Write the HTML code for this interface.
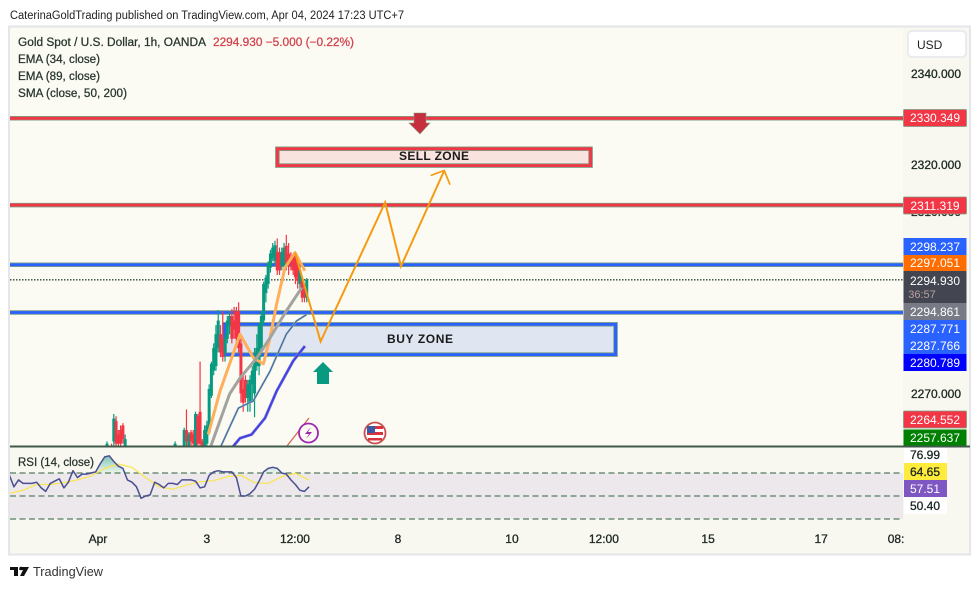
<!DOCTYPE html>
<html lang="en">
<head>
<meta charset="utf-8">
<title>Gold Spot / U.S. Dollar chart</title>
<style>
html,body{margin:0;padding:0;background:#fff;width:980px;height:589px;overflow:hidden}
svg{display:block;font-family:"Liberation Sans",sans-serif}
.axis{font-size:12px;fill:#1a2620;text-anchor:middle;stroke:#1a2620;stroke-width:.3}
.tag{font-size:12px;fill:#fff;text-anchor:middle}
.leg{font-size:11.5px;fill:#27352d;stroke:#27352d;stroke-width:.25}
</style>
</head>
<body>
<svg id="chart" width="980" height="589" viewBox="0 0 980 589" xmlns="http://www.w3.org/2000/svg">
  <defs>
    <clipPath id="mainClip"><rect x="10" y="28" width="893" height="418"/></clipPath>
    <clipPath id="rsiClip"><rect x="10" y="447" width="893" height="75"/></clipPath>
    <linearGradient id="rsiFill" x1="0" y1="0" x2="0" y2="1">
      <stop offset="0" stop-color="#089981" stop-opacity=".5"/>
      <stop offset="1" stop-color="#089981" stop-opacity=".05"/>
    </linearGradient>
  </defs>

  <text x="10" y="19" font-size="11.5" fill="#222" textLength="394" lengthAdjust="spacingAndGlyphs">CaterinaGoldTrading published on TradingView.com, Apr 04, 2024 17:23 UTC+7</text>

  <rect x="9" y="26.5" width="961" height="528" fill="#f8f8f0" stroke="#e4e6ea" stroke-width="2"/>
  <rect x="10" y="28" width="893" height="418" fill="#fbfbf3"/>

  <g id="mainMarks" clip-path="url(#mainClip)"></g>

  <g>
    <path d="M414 113H426V123H430L420 134L409 123H414Z" fill="#c62f3e" stroke="#8a9a80" stroke-width=".6"/>
  </g>
  <g>
    <path d="M323 362L333 372H329V384H317V372H313Z" fill="#089981"/>
  </g>
  <text x="434" y="160" font-size="12" font-weight="bold" fill="#1a1a1a" text-anchor="middle" textLength="70">SELL ZONE</text>
  <text x="420" y="343" font-size="12" font-weight="bold" fill="#1a1a1a" text-anchor="middle" textLength="66">BUY ZONE</text>

  <g>
    <path d="M287 446L309 418" stroke="#d2694f" stroke-width="1.3" fill="none"/>
    <circle cx="308.500" cy="433" r="9.500" fill="#fbfbf3" stroke="#9c27b0" stroke-width="1.800"/>
    <path d="M311 427L305 434H309L306 439L312 432H308Z" fill="#9c27b0"/>
  </g>
  <g>
    <circle cx="375" cy="433" r="10.500" fill="#fff" stroke="#c9504f" stroke-width="1.800"/>
    <rect x="367" y="426" width="16" height="3" fill="#d8343f"/>
    <rect x="367" y="432" width="16" height="3" fill="#d8343f"/>
    <rect x="368" y="438" width="14" height="2.500" fill="#d8343f"/>
    <rect x="367" y="426" width="8" height="7" fill="#3a5aa8"/>
  </g>

  <g>
    <text class="leg" x="18" y="46" textLength="188" lengthAdjust="spacingAndGlyphs">Gold Spot / U.S. Dollar, 1h, OANDA</text>
    <text class="leg" x="213" y="46" style="fill:#d2404c;stroke:#d2404c" textLength="141" lengthAdjust="spacingAndGlyphs">2294.930 −5.000 (−0.22%)</text>
    <text class="leg" x="18" y="63" textLength="82" lengthAdjust="spacingAndGlyphs">EMA (34, close)</text>
    <text class="leg" x="18" y="80" textLength="82" lengthAdjust="spacingAndGlyphs">EMA (89, close)</text>
    <text class="leg" x="18" y="97" textLength="109" lengthAdjust="spacingAndGlyphs">SMA (close, 50, 200)</text>
  </g>

  <g id="rsiMarks" clip-path="url(#rsiClip)"></g>
  <text class="leg" x="18" y="466" textLength="76" lengthAdjust="spacingAndGlyphs">RSI (14, close)</text>

  <rect x="10" y="445.500" width="960" height="2" fill="#3f5a4a"/>

  <g>
    <rect x="903" y="28" width="66" height="417" fill="#f8f8f0"/>
    <text class="axis" x="936" y="78">2340.000</text>
    <text class="axis" x="936" y="169">2320.000</text>
    <text class="axis" x="936" y="216">2310.000</text>
    <text class="axis" x="936" y="398">2270.000</text>

    <rect x="903.500" y="109.500" width="63" height="17" rx="1" fill="#f23645" stroke="#7d9c84" stroke-width=".8"/>
    <text class="tag" x="935" y="122">2330.349</text>
    <rect x="903.500" y="197" width="63" height="17" rx="1" fill="#f23645" stroke="#7d9c84" stroke-width=".8"/>
    <text class="tag" x="935" y="210">2311.319</text>
    <rect x="903.500" y="238" width="63" height="17" fill="#2962ff"/>
    <text class="tag" x="935" y="251">2298.237</text>
    <rect x="903.500" y="255" width="63" height="16" fill="#ff6d00"/>
    <text class="tag" x="935" y="267">2297.051</text>
    <rect x="903.500" y="271" width="63" height="32" fill="#434651"/>
    <text class="tag" x="935" y="285">2294.930</text>
    <text class="tag" x="922" y="298" style="font-size:11px;fill:#b9a0a0">36:57</text>
    <rect x="903.500" y="303" width="63" height="17" fill="#787b86"/>
    <text class="tag" x="935" y="316">2294.861</text>
    <rect x="903.500" y="320" width="63" height="17" fill="#2962ff"/>
    <text class="tag" x="935" y="333">2287.771</text>
    <rect x="903.500" y="337" width="63" height="17" fill="#2962ff"/>
    <text class="tag" x="935" y="350">2287.766</text>
    <rect x="903.500" y="354" width="63" height="17" fill="#0000ff"/>
    <text class="tag" x="935" y="367">2280.789</text>
    <rect x="903.500" y="411" width="63" height="17" rx="1" fill="#f23645" stroke="#7d9c84" stroke-width=".8"/>
    <text class="tag" x="935" y="424">2264.552</text>
    <rect x="903.500" y="429.500" width="63" height="16" fill="#008000"/>
    <text class="tag" x="935" y="442">2257.637</text>
  </g>

  <g>
    <rect x="904" y="447.500" width="43" height="16" fill="#fff"/>
    <text class="axis" x="925" y="459">76.99</text>
    <rect x="904" y="463" width="43" height="17" fill="#ffeb3b"/>
    <text class="axis" x="925" y="476">64.65</text>
    <rect x="904" y="480" width="43" height="17" fill="#7e57c2"/>
    <text class="tag" x="925" y="493">57.51</text>
    <rect x="904" y="497" width="43" height="17" fill="#fff"/>
    <text class="axis" x="925" y="510">50.40</text>
  </g>

  <g id="timeAxis"></g>

  <g>
    <rect x="908" y="31" width="58" height="26" rx="4" fill="#fff" stroke="#e4e6ea" stroke-width="1.500"/>
    <text x="917" y="49" font-size="12" fill="#222">USD</text>
  </g>

  <g>
    <path d="M10 567H18V576H14V570H10ZM21 567H29L24 576H20L23 570H19Z" fill="#111"/>
    <circle cx="21" cy="568.500" r="1.700" fill="#111"/>
    <text x="33" y="576" font-size="12.500" fill="#333" textLength="70" lengthAdjust="spacingAndGlyphs">TradingView</text>
  </g>
</svg>

<script>
// ---- candle data (hourly bars) ----
const candleBars = [0,2,3,4,5,6,7,8,30,34,35,36,37,38,39,40,41,42,43,44,45,46,47,48,49,50,51,52,53,54,55,56,57,58,59,60,61,62,63,64,65,66,67,68,69,70,71,72,73,74,75,76,77,78,79,80,81,82,83,84,85,86,87,88];
const candleOpen  = [2258,2258,2259.5,2264,2261,2262,2263,2258,2258,2258,2262,2258.5,2261.5,2261,2258,2265,2266,2259.5,2258.5,2259,2261.5,2269.5,2275,2276,2280,2283,2282,2279,2282,2285,2287,2286,2288,2288,2281,2271,2273,2269,2268,2272,2270,2276,2276,2280,2286,2292,2294,2297.6,2299.7,2299,2301,2301,2298,2298,2302.4,2300.7,2300,2300,2300.7,2298.5,2294,2294.7,2293,2291];
const candleHigh  = [2259.5,2259,2265.5,2265,2262,2263,2263.5,2261,2259.5,2262.5,2266.5,2261.5,2262,2262,2266,2265.5,2277,2260,2263,2264,2272,2277,2281,2285,2288.3,2285,2288,2283,2287,2288,2288.5,2289,2289,2290,2282,2274,2274,2273,2274,2276,2280,2283,2285.5,2288,2294.5,2296,2299,2301.5,2303,2303.5,2304,2302,2302,2303,2304.8,2303,2301,2300.5,2301,2299,2298,2295,2294,2295.3];
const candleLow   = [2257,2257,2258,2258,2258,2258,2259,2257,2257,2257,2258,2258,2258.5,2258,2257,2258,2258,2258,2258,2258,2261,2269,2274,2275,2279,2278,2277,2277,2281,2283,2281,2282,2281,2279,2268,2266,2268,2266,2266,2268,2264.8,2275,2274,2278,2285,2290,2293,2296.5,2299,2298,2296,2296,2297,2296,2297,2296,2297,2296,2294,2293,2293,2290,2290,2290];
const candleClose = [2259,2257.5,2264.5,2259,2259,2259,2260,2260,2259,2262,2259.5,2261,2259.5,2259,2265.5,2259,2259,2258.5,2262,2263,2271,2276.5,2280,2283,2286,2279,2278,2282,2286,2287,2282,2284,2282,2280,2270,2268,2269,2272,2273,2275,2278,2280,2285,2287,2294,2295.4,2298.5,2300.7,2302,2302.5,2297,2297,2301,2302,2298.5,2298,2298.5,2297,2295.5,2294.7,2297,2291,2291,2294.93];

// ---- moving averages ----
const smaBars = [44.6,49.8,58.6,64.5,68.9,71.8,74.7,78.4,82.8,87.2];
const smaValues = [2261,2270.5,2283,2277.8,2276.5,2282.2,2289.6,2297.6,2300.9,2296.9];
const emaFastBars = [45.4,54,58.6,66,71.8,79,85.8];
const emaFastValues = [2258,2269.9,2273.4,2277.8,2282.2,2288.1,2293.2];
const emaMidBars = [49.8,57.9,64.5,71.8,79,83.5,87.9];
const emaMidValues = [2258,2266.8,2268.4,2274.9,2283,2285.9,2287.3];
const emaSlowBars = [54.9,58.6,63.7,69.6,74.7,82,87.2];
const emaSlowValues = [2258,2260.2,2261,2264.6,2270.5,2277.1,2280.4];

// ---- levels, zones and trade plan ----
const redLevels = [2330.349,2311.319];
const blueLevels = [2298.237,2287.771];
const lastPrice = 2294.93;
const sellZoneBars = [74.4,213.7];
const sellZonePrices = [2324,2319.65];
const buyZoneBars = [51.1,224.7];
const buyZonePrices = [2285.5,2278.2];
const planBars = [82.8,94.1,122.5,129.5,148.6];
const planPrices = [2300.9,2281.4,2311.9,2297.9,2318.9];
const planHeadBars = [142.6,148.6,151.1];
const planHeadPrices = [2317.8,2318.9,2315.8];

// ---- RSI ----
const rsiValues = [68,58,64,61,61,61,62,57,54,61,63,65,57,62,72,66,69,69,70,71,78,84,85,80,76,74,64,62,58,48,50,51,62,60,57,61,61,60,64,64,64,63,57,58,68,71,72,71,71,71,66,50,50,52,56,63,71,74,75,74,70,69,64,60,55,54,58];
const rsiMaValues = [52.3,55,60,60,61.6,64,67.4,74,77.8,75,66,58,55.8,59.5,62.4,63.3,66.8,68,61.6,61,66.8,69.7,64];
const rsiBands = [70,50,30];
const rsiStartBar = -43;
const rsiBarStep = 2;
const rsiMaBarStep = 6;

// ---- time axis ----
const timeLabels = ['Apr','3','12:00','8','10','12:00','15','17','08:'];
const timeTickBars = [-4,44,82.8,128.2,178.4,218.9,264.8,314.6,347.6];

// ---- axis functions ----
const xBar = b => 107 + 2.27 * b;
const yPrice = p => 74.3 + (2340 - p) * 4.56;
const yRsi = v => 496 - (v - 50) * 1.15;

const NS = 'http://www.w3.org/2000/svg';
const mainG = document.getElementById('mainMarks');
const rsiG = document.getElementById('rsiMarks');
const timeG = document.getElementById('timeAxis');

function make(tag, parent, props) {
  const el = document.createElementNS(NS, tag);
  for (const k in props) el.setAttribute(k, props[k]);
  parent.appendChild(el);
  return el;
}
function pts(xs, ys) {
  return xs.map((x, i) => x.toFixed(1) + ',' + ys[i].toFixed(1)).join(' ');
}

// horizontal levels
function levelLine(price, colour, name) {
  const halo = make('line', mainG, {x1:10, x2:903, y1:yPrice(price), y2:yPrice(price), stroke:'#7d9c84', 'stroke-width':4.5});
  
  
  const core = make('line', mainG, {x1:10, x2:903, y1:yPrice(price), y2:yPrice(price), stroke:colour, 'stroke-width':2.8});
  
  
}
redLevels.forEach(p => levelLine(p, '#f23645', 'resistance-level'));
blueLevels.forEach(p => levelLine(p, '#2962ff', 'support-level'));

const last = make('line', mainG, {x1:10, x2:903, y1:yPrice(lastPrice), y2:yPrice(lastPrice), stroke:'#2f4a3a', 'stroke-width':1.3, 'stroke-dasharray':'1.5 1.5'});



// zones
function zone(bars, prices, fill, colour, name) {
  const x = xBar(bars[0]), w = xBar(bars[1]) - x, y = yPrice(prices[0]), h = yPrice(prices[1]) - y;
  const halo = make('rect', mainG, {x:x + 1.5, y:y + 1.5, width:w - 3, height:h - 3, fill:fill, stroke:'#7d9c84', 'stroke-width':4.5});
  
  
  const core = make('rect', mainG, {x:x + 1.5, y:y + 1.5, width:w - 3, height:h - 3, fill:'none', stroke:colour, 'stroke-width':2.8});
  
  
}
zone(sellZoneBars, sellZonePrices, '#f9e3df', '#f23645', 'sell-zone');
zone(buyZoneBars, buyZonePrices, '#e0e6f1', '#2962ff', 'buy-zone');

// MA lines
function maLine(bars, values, colour, width, name, halo) {
  if (halo) {
    const h = make('polyline', mainG, {points:pts(bars.map(xBar), values.map(yPrice)), fill:'none', stroke:halo, 'stroke-width':width + 1, 'stroke-linejoin':'round'});
    
    
  }
  const l = make('polyline', mainG, {points:pts(bars.map(xBar), values.map(yPrice)), fill:'none', stroke:colour, 'stroke-width':width, 'stroke-linejoin':'round'});
  
  
}

// candles
candleBars.forEach((b, i) => {
  const up = candleClose[i] >= candleOpen[i];
  const colour = up ? '#089981' : '#f23645';
  const x = xBar(b);
  const wick = make('line', mainG, {x1:x, x2:x, y1:yPrice(candleHigh[i]), y2:yPrice(candleLow[i]), stroke:colour, 'stroke-width':1.2});
  
  
  const top = yPrice(Math.max(candleOpen[i], candleClose[i]));
  const bot = yPrice(Math.min(candleOpen[i], candleClose[i]));
  const body = make('rect', mainG, {x:x - 1.5, y:top, width:3, height:Math.max(1, bot - top), fill:colour});
  
  
});

maLine(smaBars, smaValues, '#ffae5c', 3, 'sma-line');
maLine(emaFastBars, emaFastValues, '#a3a39d', 3, 'ema-34-line');
maLine(emaMidBars, emaMidValues, '#3f5fc0', 1, 'ema-89-line', '#8fb59c');
maLine(emaSlowBars, emaSlowValues, '#4a3fe0', 2, 'sma-200-line', '#7c8fd8');

// trade plan zigzag
const plan = make('polyline', mainG, {points:pts(planBars.map(xBar), planPrices.map(yPrice)), fill:'none', stroke:'#f59b12', 'stroke-width':2, 'stroke-linejoin':'miter'});


const head = make('polyline', mainG, {points:pts(planHeadBars.map(xBar), planHeadPrices.map(yPrice)), fill:'none', stroke:'#f59b12', 'stroke-width':1.7});



// RSI pane
const bandTop = yRsi(rsiBands[0]), bandBottom = yRsi(rsiBands[2]);
const band = make('rect', rsiG, {x:10, y:bandTop, width:893, height:bandBottom - bandTop, fill:'#ece8ec'});


rsiBands.forEach(v => {
  const l = make('line', rsiG, {x1:10, x2:903, y1:yRsi(v), y2:yRsi(v), stroke:'#6f8f7a', 'stroke-width':1.4, 'stroke-dasharray':'6 3.5'});
  
  
});
const rsiX = rsiValues.map((v, i) => xBar(rsiStartBar + i * rsiBarStep));
const rsiY = rsiValues.map(yRsi);
const clampY = rsiValues.map(v => yRsi(Math.max(v, rsiBands[0])));
const fillPoly = make('polygon', rsiG, {points:pts(rsiX, clampY) + ' ' + rsiX[rsiX.length - 1].toFixed(1) + ',' + bandTop + ' ' + rsiX[0].toFixed(1) + ',' + bandTop, fill:'url(#rsiFill)'});


const rsiMaLine = make('polyline', rsiG, {points:pts(rsiMaValues.map((v, i) => xBar(rsiStartBar + i * rsiMaBarStep)), rsiMaValues.map(yRsi)), fill:'none', stroke:'#fbe54a', 'stroke-width':1.2});


const rsiLine = make('polyline', rsiG, {points:pts(rsiX, rsiY), fill:'none', stroke:'#4b4f90', 'stroke-width':1.5, 'stroke-linejoin':'round'});



// time axis
timeLabels.forEach((t, i) => {
  const el = make('text', timeG, {x:xBar(timeTickBars[i]), y:543, class:'axis'});
  
  
  el.textContent = t;
});
</script>
</body>
</html>
